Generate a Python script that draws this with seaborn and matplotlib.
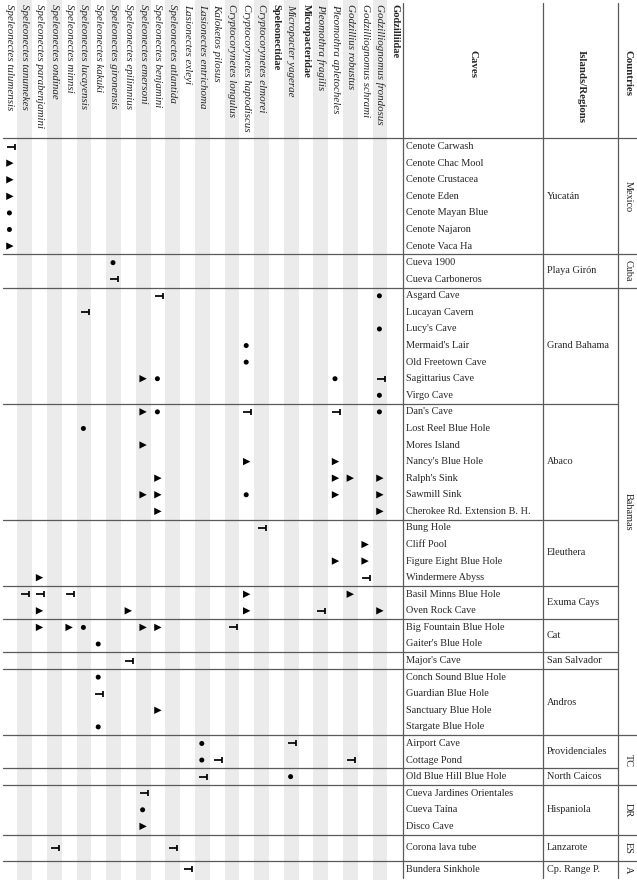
import matplotlib
matplotlib.use("Agg")
import matplotlib.pyplot as plt
from matplotlib.path import Path
import seaborn as sns
import pandas as pd

# ---------------- data ----------------
species = [
    "Speleonectes tulumensis", "Speleonectes tanumekes", "Speleonectes parabenjamini",
    "Speleonectes ondinae", "Speleonectes minnsi", "Speleonectes lucayensis",
    "Speleonectes kakuki", "Speleonectes gironensis", "Speleonectes epilimnius",
    "Speleonectes emersoni", "Speleonectes benjamini", "Speleonectes atlantida",
    "Lasionectes exleyi", "Lasionectes entrichoma", "Kaloketos pilosus",
    "Cryptocorynetes longulus", "Cryptocorynetes haptodiscus", "Cryptocorynetes elmorei",
    "Speleonectidae", "Micropacter yagerae", "Micropacteridae",
    "Pleomothra fragilis", "Pleomothra apletocheles", "Godzillius robustus",
    "Godzilliognomus schrami", "Godzilliognomus frondosus", "Godzilliidae",
]
families = ["Speleonectidae", "Micropacteridae", "Godzilliidae"]

regions = [
    ("Yucatán", ["Cenote Carwash", "Cenote Chac Mool", "Cenote Crustacea", "Cenote Eden",
                 "Cenote Mayan Blue", "Cenote Najaron", "Cenote Vaca Ha"]),
    ("Playa Girón", ["Cueva 1900", "Cueva Carboneros"]),
    ("Grand Bahama", ["Asgard Cave", "Lucayan Cavern", "Lucy's Cave", "Mermaid's Lair",
                      "Old Freetown Cave", "Sagittarius Cave", "Virgo Cave"]),
    ("Abaco", ["Dan's Cave", "Lost Reel Blue Hole", "Mores Island", "Nancy's Blue Hole",
               "Ralph's Sink", "Sawmill Sink", "Cherokee Rd. Extension B. H."]),
    ("Eleuthera", ["Bung Hole", "Cliff Pool", "Figure Eight Blue Hole", "Windermere Abyss"]),
    ("Exuma Cays", ["Basil Minns Blue Hole", "Oven Rock Cave"]),
    ("Cat", ["Big Fountain Blue Hole", "Gaiter's Blue Hole"]),
    ("San Salvador", ["Major's Cave"]),
    ("Andros", ["Conch Sound Blue Hole", "Guardian Blue Hole", "Sanctuary Blue Hole",
                "Stargate Blue Hole"]),
    ("Providenciales", ["Airport Cave", "Cottage Pond"]),
    ("North Caicos", ["Old Blue Hill Blue Hole"]),
    ("Hispaniola", ["Cueva Jardines Orientales", "Cueva Taína", "Disco Cave"]),
    ("Lanzarote", ["Corona lava tube"]),
    ("Cp. Range P.", ["Bundera Sinkhole"]),
]
countries = [
    ("Mexico", ["Yucatán"]),
    ("Cuba", ["Playa Girón"]),
    ("Bahamas", ["Grand Bahama", "Abaco", "Eleuthera", "Exuma Cays", "Cat",
                 "San Salvador", "Andros"]),
    ("TC", ["Providenciales", "North Caicos"]),
    ("DR", ["Hispaniola"]),
    ("ES", ["Lanzarote"]),
    ("A", ["Cp. Range P."]),
]

# occurrence records (species, cave) by symbol
bar_records = [
    ("Speleonectes tulumensis", "Cenote Carwash"),
    ("Speleonectes gironensis", "Cueva Carboneros"),
    ("Speleonectes benjamini", "Asgard Cave"),
    ("Speleonectes lucayensis", "Lucayan Cavern"),
    ("Godzilliognomus frondosus", "Sagittarius Cave"),
    ("Cryptocorynetes haptodiscus", "Dan's Cave"),
    ("Pleomothra apletocheles", "Dan's Cave"),
    ("Cryptocorynetes elmorei", "Bung Hole"),
    ("Godzilliognomus schrami", "Windermere Abyss"),
    ("Speleonectes tanumekes", "Basil Minns Blue Hole"),
    ("Speleonectes parabenjamini", "Basil Minns Blue Hole"),
    ("Speleonectes minnsi", "Basil Minns Blue Hole"),
    ("Pleomothra fragilis", "Oven Rock Cave"),
    ("Cryptocorynetes longulus", "Big Fountain Blue Hole"),
    ("Speleonectes epilimnius", "Major's Cave"),
    ("Speleonectes kakuki", "Guardian Blue Hole"),
    ("Micropacter yagerae", "Airport Cave"),
    ("Kaloketos pilosus", "Cottage Pond"),
    ("Godzillius robustus", "Cottage Pond"),
    ("Lasionectes entrichoma", "Old Blue Hill Blue Hole"),
    ("Speleonectes emersoni", "Cueva Jardines Orientales"),
    ("Speleonectes ondinae", "Corona lava tube"),
    ("Speleonectes atlantida", "Corona lava tube"),
    ("Lasionectes exleyi", "Bundera Sinkhole"),
]
tri_records = [
    ("Speleonectes tulumensis", "Cenote Chac Mool"),
    ("Speleonectes tulumensis", "Cenote Crustacea"),
    ("Speleonectes tulumensis", "Cenote Eden"),
    ("Speleonectes tulumensis", "Cenote Vaca Ha"),
    ("Speleonectes emersoni", "Sagittarius Cave"),
    ("Speleonectes emersoni", "Dan's Cave"),
    ("Speleonectes emersoni", "Mores Island"),
    ("Cryptocorynetes haptodiscus", "Nancy's Blue Hole"),
    ("Pleomothra apletocheles", "Nancy's Blue Hole"),
    ("Speleonectes benjamini", "Ralph's Sink"),
    ("Pleomothra apletocheles", "Ralph's Sink"),
    ("Godzillius robustus", "Ralph's Sink"),
    ("Godzilliognomus frondosus", "Ralph's Sink"),
    ("Speleonectes emersoni", "Sawmill Sink"),
    ("Speleonectes benjamini", "Sawmill Sink"),
    ("Pleomothra apletocheles", "Sawmill Sink"),
    ("Godzilliognomus frondosus", "Sawmill Sink"),
    ("Speleonectes benjamini", "Cherokee Rd. Extension B. H."),
    ("Godzilliognomus frondosus", "Cherokee Rd. Extension B. H."),
    ("Godzilliognomus schrami", "Cliff Pool"),
    ("Pleomothra apletocheles", "Figure Eight Blue Hole"),
    ("Godzilliognomus schrami", "Figure Eight Blue Hole"),
    ("Speleonectes parabenjamini", "Windermere Abyss"),
    ("Cryptocorynetes haptodiscus", "Basil Minns Blue Hole"),
    ("Godzillius robustus", "Basil Minns Blue Hole"),
    ("Speleonectes parabenjamini", "Oven Rock Cave"),
    ("Speleonectes epilimnius", "Oven Rock Cave"),
    ("Cryptocorynetes haptodiscus", "Oven Rock Cave"),
    ("Godzilliognomus frondosus", "Oven Rock Cave"),
    ("Speleonectes parabenjamini", "Big Fountain Blue Hole"),
    ("Speleonectes minnsi", "Big Fountain Blue Hole"),
    ("Speleonectes emersoni", "Big Fountain Blue Hole"),
    ("Speleonectes benjamini", "Big Fountain Blue Hole"),
    ("Speleonectes benjamini", "Sanctuary Blue Hole"),
    ("Speleonectes emersoni", "Disco Cave"),
]
dot_records = [
    ("Speleonectes tulumensis", "Cenote Mayan Blue"),
    ("Speleonectes tulumensis", "Cenote Najaron"),
    ("Speleonectes gironensis", "Cueva 1900"),
    ("Godzilliognomus frondosus", "Asgard Cave"),
    ("Godzilliognomus frondosus", "Lucy's Cave"),
    ("Cryptocorynetes haptodiscus", "Mermaid's Lair"),
    ("Cryptocorynetes haptodiscus", "Old Freetown Cave"),
    ("Speleonectes benjamini", "Sagittarius Cave"),
    ("Pleomothra apletocheles", "Sagittarius Cave"),
    ("Godzilliognomus frondosus", "Virgo Cave"),
    ("Speleonectes benjamini", "Dan's Cave"),
    ("Godzilliognomus frondosus", "Dan's Cave"),
    ("Speleonectes lucayensis", "Lost Reel Blue Hole"),
    ("Cryptocorynetes haptodiscus", "Sawmill Sink"),
    ("Speleonectes lucayensis", "Big Fountain Blue Hole"),
    ("Speleonectes kakuki", "Gaiter's Blue Hole"),
    ("Speleonectes kakuki", "Conch Sound Blue Hole"),
    ("Speleonectes kakuki", "Stargate Blue Hole"),
    ("Lasionectes entrichoma", "Airport Cave"),
    ("Lasionectes entrichoma", "Cottage Pond"),
    ("Micropacter yagerae", "Old Blue Hill Blue Hole"),
    ("Speleonectes emersoni", "Cueva Taína"),
]

# ---------------- layout ----------------
sns.set_theme(style="white")
plt.rcParams["font.family"] = ["Liberation Serif", "DejaVu Serif"]

W_PX, H_PX = 637, 880
X0, CW = 2.5, 14.8           # species grid origin / column width
X_CAVE, X_REG, X_CTRY = 402.5, 543.3, 618.3
Y_HEAD, RH = 138.3, 16.58
TALL = {"Corona lava tube": 26.5}
LINE_C = "#5a5a5a"
FS = 7.4
FS_HEAD = 7.9

caves = [c for _, cs in regions for c in cs]
row_top, y = {}, Y_HEAD
for c in caves:
    row_top[c] = y
    y += TALL.get(c, RH)
Y_END = y
row_mid = {c: row_top[c] + TALL.get(c, RH) / 2 for c in caves}
col_mid = {s: X0 + CW * (i + 0.5) for i, s in enumerate(species)}

fig = plt.figure(figsize=(W_PX / 100, H_PX / 100), dpi=100)
ax = fig.add_axes([0, 0, 1, 1])

# alternating stripes
for i in range(len(species)):
    if i % 2 == 1:
        ax.axvspan(X0 + CW * i, X0 + CW * (i + 1), color="#ebebeb", lw=0, zorder=0)

# species headers
for s in species:
    fam = s in families
    ax.text(col_mid[s], 4, s, rotation=270, ha="center", va="top",
            fontsize=FS_HEAD - (0.3 if fam else 0),
            fontstyle="normal" if fam else "italic",
            fontweight="bold" if fam else "normal", zorder=3)

# column headers
for xc, lab in [((X_CAVE + X_REG) / 2, "Caves"), ((X_REG + X_CTRY) / 2, "Islands/Regions"),
                ((X_CTRY + W_PX) / 2, "Countries")]:
    ax.text(xc, 50, lab, rotation=270, ha="center", va="top", fontsize=7.8,
            fontweight="bold", zorder=3)

# grid lines
for xv in (X_CAVE, X_REG, X_CTRY):
    ax.plot([xv, xv], [3, Y_END], color=LINE_C, lw=0.9, zorder=2)
ax.plot([X0, W_PX], [Y_HEAD, Y_HEAD], color=LINE_C, lw=0.9, zorder=2)

country_last = {rs[-1]: c for c, rs in countries}
for reg, cs in regions:
    top = row_top[cs[0]]
    bot = row_top[cs[-1]] + TALL.get(cs[-1], RH)
    for c in cs:
        ax.text(X_CAVE + 4, row_mid[c], c, ha="left", va="center", fontsize=FS, zorder=3)
    ax.text(X_REG + 3.5, (top + bot) / 2, reg, ha="left", va="center", fontsize=FS, zorder=3)
    if reg != regions[-1][0]:
        xe = W_PX if reg in country_last else X_CTRY
        ax.plot([X0, xe], [bot, bot], color=LINE_C, lw=0.9, zorder=2)

reg_rows = dict(regions)
for ctry, rs in countries:
    top = row_top[reg_rows[rs[0]][0]]
    last = reg_rows[rs[-1]][-1]
    bot = row_top[last] + TALL.get(last, RH)
    ax.text((X_CTRY + W_PX) / 2 + 0.5, (top + bot) / 2, ctry, rotation=270,
            ha="center", va="center", fontsize=FS, zorder=3)

# markers
def frame(recs):
    return pd.DataFrame({"x": [col_mid[s] for s, _ in recs],
                         "y": [row_mid[c] for _, c in recs]})

bar_marker = Path([(-1, 0), (1, 0), (1, -0.8), (1, 0.8)],
                  [Path.MOVETO, Path.LINETO, Path.MOVETO, Path.LINETO])

df_bar = frame(bar_records)
df_bar["x"] += 0.6
sns.scatterplot(data=df_bar, x="x", y="y", marker=bar_marker, s=30, color="black",
                edgecolor="black", linewidth=1.25, ax=ax, legend=False, zorder=4)
sns.scatterplot(data=frame(tri_records), x="x", y="y", marker=">", s=28, color="black",
                edgecolor="none", ax=ax, legend=False, zorder=4)
df_dot = frame(dot_records)
df_dot["x"] -= 0.5
sns.scatterplot(data=df_dot, x="x", y="y", marker="o", s=13, color="black",
                edgecolor="none", ax=ax, legend=False, zorder=4)

ax.set_xlim(0, W_PX)
ax.set_ylim(H_PX, 0)
ax.axis("off")
fig.savefig("out.png", dpi=100)
